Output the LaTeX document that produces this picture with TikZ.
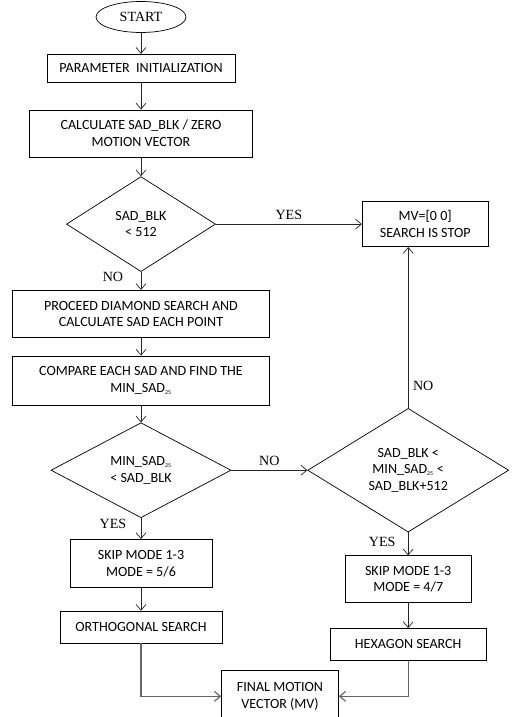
\documentclass[tikz,border=0pt]{standalone}
\usepackage{fontspec}
\setmainfont{Carlito}
\newfontfamily\answerfont{Liberation Serif}
\usetikzlibrary{shapes.geometric, arrows.meta, positioning, calc}

\begin{document}
\begin{tikzpicture}[node distance=0.6cm]

\tikzset{
  startnode/.style={ellipse, draw=black, line width=0.6pt, fill=white,
    minimum width=2.7cm, minimum height=0.93cm,
    font=\answerfont\fontsize{12}{14}\selectfont},
  procbox/.style={rectangle, draw=black, line width=0.6pt, fill=white,
    text centered, align=center, inner sep=2pt,
    font=\fontsize{12}{14.2}\selectfont},
  decision/.style={diamond, draw=black, line width=0.6pt, fill=white,
    align=center, inner sep=0pt, font=\fontsize{12}{14.2}\selectfont},
  arrow/.style={-{Straight Barb[length=5pt, width=8.5pt]},
    line width=0.6pt, black!85},
  mergearrow/.style={arrow, line width=1pt, black!60},
  answer/.style={font=\answerfont\fontsize{12}{14}\selectfont, text=black}
}

\useasboundingbox (-4.23,0.51) rectangle (11.16,-21.0);

\node[startnode] at (0,0) (start) {START};
\node[procbox, below=0.63cm of start,
  minimum width=5.64cm, minimum height=0.84cm] (init)
  {PARAMETER\ \ INITIALIZATION};
\node[procbox, below=0.81cm of init,
  minimum width=6.69cm, minimum height=1.41cm] (zeromv)
  {CALCULATE SAD\_BLK / ZERO\\MOTION VECTOR};
\node[decision, below=0.57cm of zeromv,
  minimum width=4.47cm, minimum height=2.85cm] (thresh)
  {SAD\_BLK\\< 512};
\node[procbox, below=0.54cm of thresh,
  minimum width=7.71cm, minimum height=1.41cm] (diasearch)
  {PROCEED DIAMOND SEARCH AND\\CALCULATE SAD EACH POINT};
\node[procbox, below=0.54cm of diasearch,
  minimum width=7.71cm, minimum height=1.47cm] (findmin)
  {COMPARE EACH SAD AND FIND THE\\MIN\_SAD\textsubscript{\tiny 25}};
\node[decision, below=0.51cm of findmin,
  minimum width=5.4cm, minimum height=2.85cm] (cmpblk)
  {MIN\_SAD\textsubscript{\tiny 25}\\< SAD\_BLK};
\node[procbox, below=0.63cm of cmpblk,
  minimum width=4.26cm, minimum height=1.44cm] (skipa)
  {SKIP MODE 1-3\\MODE = 5/6};
\node[procbox, below=0.69cm of skipa,
  minimum width=4.86cm, minimum height=0.96cm] (ortho)
  {ORTHOGONAL SEARCH};

% right column
\node[procbox, right=4.38cm of thresh,
  minimum width=3.78cm, minimum height=1.35cm] (stop)
  {MV=[0 0]\\SEARCH IS STOP};
\node[decision, right=2.28cm of cmpblk,
  minimum width=6.03cm, minimum height=3.57cm] (range)
  {SAD\_BLK <\\MIN\_SAD\textsubscript{\tiny 25} <\\SAD\_BLK+512};
\node[procbox, below=0.69cm of range,
  minimum width=3.78cm, minimum height=1.41cm] (skipb)
  {SKIP MODE 1-3\\MODE = 4/7};
\node[procbox, below=0.75cm of skipb,
  minimum width=4.68cm, minimum height=0.96cm] (hexa)
  {HEXAGON SEARCH};

\node[procbox, below=0.81cm of ortho, xshift=4.17cm,
  minimum width=3.51cm, minimum height=1.53cm] (final)
  {FINAL MOTION\\VECTOR (MV)};

\draw[arrow] (start.south)     -- (init.north);
\draw[arrow] (init.south)      -- (zeromv.north);
\draw[arrow] (zeromv.south)    -- (thresh.north);
\draw[arrow] (thresh.east)     -- node[answer, above] {YES} (stop.west);
\draw[arrow] (thresh.south)    -- (diasearch.north);
\draw[arrow] (diasearch.south) -- (findmin.north);
\draw[arrow] (findmin.south)   -- (cmpblk.north);
\draw[arrow] (cmpblk.east)     -- node[answer, above] {NO} (range.west);
\draw[arrow] (cmpblk.south)    -- (skipa.north);
\draw[arrow] (skipa.south)     -- (ortho.north);
\draw[arrow] (range.south)     -- (skipb.north);
\draw[arrow] (skipb.south)     -- (hexa.north);
\draw[arrow] (range.north)     -- (range.north |- stop.south);
\draw[mergearrow] (ortho.south) |- (final.west);
\draw[mergearrow] (hexa.south)  |- (final.east);

\node[answer] at ($(thresh.south)+(-0.84,-0.15)$) (nolbla) {NO};
\node[answer] at ($(cmpblk.south)+(-0.84,-0.18)$) (yeslbla) {YES};
\node[answer] at ($(range.south)+(-0.78,-0.30)$)  (yeslblb) {YES};
\node[answer] at ($(range.north)+(0.45,0.66)$)    (nolblb) {NO};

\end{tikzpicture}
\end{document}
